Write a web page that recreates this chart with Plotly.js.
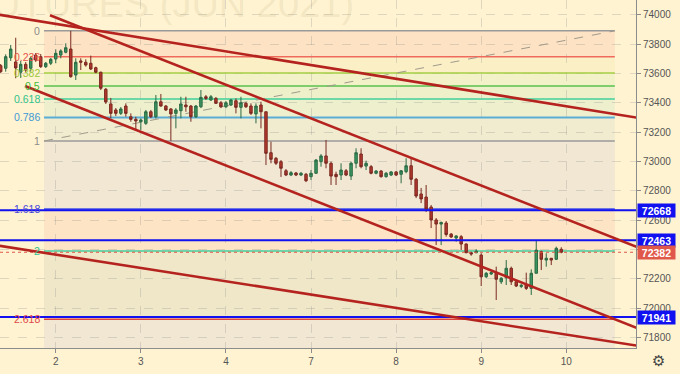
<!DOCTYPE html>
<html><head><meta charset="utf-8">
<script src="https://cdn.plot.ly/plotly-3.0.1.min.js"></script>
<style>html,body{margin:0;padding:0;background:#fff3d1;}#chart{width:680px;height:374px;}</style>
</head><body><div id="chart"></div>
<script>
// ---- data ----
const dayLabels = ['2','3','4','7','8','9','10'];
const dayFirstBar = [11,28,45,62,79,96,113];
const priceTicks = [71800,72000,72200,72400,72600,72800,73000,73200,73400,73600,73800,74000];
const priceTickText = ['71800','72000','72200','','72600','72800','73000','73200','73400','73600','73800','74000'];

const openP = [
73653,73635,73707,73678,73608,73662,73635,73725,73714,73646,
73669,73698,73725,73744,73766,73589,73685,73676,73669,73639,
73608,73492,73392,73351,73328,73378,73305,73287,73271,73260,
73339,73305,73407,73378,73358,73328,73346,73385,73378,73305,
73373,73441,73419,73430,73400,73373,73385,73414,73369,73396,
73378,73324,73385,73339,73060,73022,72999,72937,72908,72922,
72908,72913,72897,72920,72999,73038,72988,72913,72908,72937,
72901,72988,73051,72969,72965,72920,72935,72897,72908,72929,
72913,72931,72971,72879,72779,72758,72690,72602,72574,72581,
72506,72479,72488,72438,72379,72379,72363,72215,72234,72239,
72181,72209,72273,72181,72149,72159,72136,72239,72386,72329,
72341,72334,72402];
const highP = [
73664,73730,73794,73843,73685,73678,73714,73739,73732,73678,
73705,73764,73764,73805,73890,73703,73703,73696,73721,73646,
73612,73501,73433,73364,73371,73396,73328,73305,73294,73351,
73351,73453,73460,73385,73364,73364,73441,73441,73385,73385,
73487,73453,73453,73439,73412,73412,73426,73430,73441,73405,
73396,73396,73407,73339,73135,73031,73010,72949,72935,72929,
72929,72922,72942,73017,73051,73147,72999,72931,72988,72949,
72999,73090,73090,73006,72976,72942,72942,72929,72935,72935,
72942,73022,73022,72888,72820,72840,72704,72615,72591,72595,
72513,72499,72499,72443,72386,72402,72375,72247,72254,72284,
72213,72329,72284,72186,72166,72243,72266,72463,72393,72375,
72343,72420,72416];
const lowP = [
73603,73612,73685,73567,73569,73610,73612,73678,73637,73637,
73657,73669,73703,73737,73571,73555,73623,73646,73623,73601,
73487,73392,73294,73310,73317,73305,73271,73215,73215,73249,
73296,73294,73373,73344,73140,73226,73294,73339,73271,73296,
73364,73419,73412,73392,73364,73364,73378,73328,73294,73364,
73317,73260,73226,72976,72988,72976,72895,72901,72901,72901,
72901,72860,72874,72915,72965,72954,72840,72840,72874,72901,
72874,72954,72954,72942,72913,72913,72890,72890,72901,72901,
72852,72920,72840,72751,72717,72656,72547,72431,72431,72488,
72479,72454,72397,72375,72358,72375,72152,72207,72227,72057,
72166,72159,72159,72145,72138,72125,72091,72239,72261,72284,
72295,72329,72375];
const closeP = [
73612,73714,73766,73637,73662,73623,73703,73691,73646,73669,
73696,73737,73753,73775,73578,73676,73676,73657,73630,73608,
73499,73405,73328,73328,73358,73328,73287,73276,73283,73339,
73305,73407,73378,73351,73324,73351,73392,73373,73305,73378,
73437,73430,73441,73396,73373,73400,73419,73369,73400,73373,
73328,73378,73339,73056,73015,72988,72954,72908,72924,72908,
72920,72869,72920,73010,73038,72988,72901,72897,72942,72908,
72988,73060,72965,72988,72920,72935,72897,72920,72929,72908,
72937,72971,72879,72765,72745,72677,72602,72574,72585,72503,
72486,72493,72438,72379,72370,72390,72215,72239,72243,72198,
72205,72273,72181,72152,72157,72136,72239,72397,72334,72341,
72329,72409,72382];

// Fibonacci retracement
const fibHigh = 73890, fibLow = 73140;
const fibStartBar = 8.65, fibEndBar = 122.7;
const fibRatios = [0, 0.236, 0.382, 0.5, 0.618, 0.786, 1, 1.618, 2, 2.618];
const fibLabels = ['0','0.236','0.382','0.5','0.618','0.786','1','1.618','2','2.618'];
const fibLineColors = ['#9a9a9a','#ef6a5c','#a5cf45','#58c24c','#3fd19a','#5aaed6','#9a9a9a','#3f51e8','#43cf9f','#e0433c'];
const fibLabelColors = ['#8c8c8c','#e8534a','#9cc83a','#3dbb3a','#2fc38c','#3f9ad6','#8c8c8c','#4848d8','#2fc38c','#e04848'];
const fibZoneColors = ['#fde2c3','#fbefc6','#f3f1c8','#eef0c9','#eeefcd','#f1ebcf','#f1e7d2','#fce4c4','#f0e6c8','#f1e7d2'];

// trend lines [bar0, price0, bar1, price1]
const trendLines = [
  [-1, 74003, 128, 73294],
  [9.85, 73996, 128, 72406],
  [4.85, 73514, 128, 71854],
  [-1, 72430, 128, 71741]
];
const blueLevels = [72668, 72463, 71941];
const lastPrice = 72382;

// ---- build ----
const bars = openP.map((_, i) => i);
const watermark = {
  type:'scatter', mode:'text', x:[70.6], y:[74048], text:['FUTURES (JUN 2021)'],
  textposition:'middle left', cliponaxis:true, hoverinfo:'skip',
  textfont:{family:'Liberation Sans, Arial, sans-serif', size:38, color:'rgba(170,150,100,0.14)'}
};
const candles = {
  type:'candlestick', x:bars, open:openP, high:highP, low:lowP, close:closeP,
  increasing:{line:{color:'#2b6a45', width:1}, fillcolor:'#3a9560'},
  decreasing:{line:{color:'#7a2a22', width:1}, fillcolor:'#b3372d'},
  whiskerwidth:0, hoverinfo:'skip'
};

const shapes = [];
const annotations = [];
const fibPrice = r => fibHigh - r * (fibHigh - fibLow);

for (let i = 0; i < fibRatios.length; i++) {
  const top = fibPrice(fibRatios[i]);
  const bot = i + 1 < fibRatios.length ? fibPrice(fibRatios[i + 1]) : 71000;
  shapes.push({type:'rect', xref:'x', yref:'y', x0:fibStartBar, x1:fibEndBar, y0:bot, y1:top,
    fillcolor:fibZoneColors[i], line:{width:0}, layer:'below'});
}
for (let i = 0; i < fibRatios.length; i++) {
  const p = fibPrice(fibRatios[i]);
  shapes.push({type:'line', xref:'x', yref:'y', x0:fibStartBar, x1:fibEndBar, y0:p, y1:p,
    line:{color:fibLineColors[i], width:(i===5?2:1.5)}, layer:'between'});
  annotations.push({xref:'x', yref:'y', x:fibStartBar - 0.35, y:p, text:fibLabels[i], showarrow:false,
    xanchor:'right', yanchor:'middle', font:{family:'Liberation Sans, Arial, sans-serif', size:10.5, color:fibLabelColors[i]}});
}
// fib trend (dashed diagonal)
shapes.push({type:'line', xref:'x', yref:'y', x0:fibStartBar, y0:fibLow, x1:fibEndBar, y1:fibHigh,
  line:{color:'#a09a8c', width:1, dash:'dash'}, layer:'between'});

// last price dotted line
shapes.push({type:'line', xref:'paper', yref:'y', x0:0, x1:1, y0:lastPrice, y1:lastPrice,
  line:{color:'#e0584a', width:1, dash:'dot'}, layer:'above'});
// blue horizontal levels
blueLevels.forEach(v => shapes.push({type:'line', xref:'paper', yref:'y', x0:0, x1:1, y0:v, y1:v,
  line:{color:'#1010f0', width:2}, layer:'above'}));
// trend lines
trendLines.forEach(t => shapes.push({type:'line', xref:'x', yref:'y', x0:t[0], y0:t[1], x1:t[2], y1:t[3],
  line:{color:'#b5231f', width:2.6}, layer:'above'}));

// price tags on axis
const tagX = 656/636;
const tagFont = {family:'Liberation Sans, Arial, sans-serif', size:10.5, color:'#ffffff'};
blueLevels.forEach(v => annotations.push({xref:'paper', yref:'y', x:tagX, y:v, text:'<b>'+v+'</b>', showarrow:false,
  xanchor:'center', yanchor:'middle', bgcolor:'#1010f0', borderpad:1, width:35, height:11, font:tagFont}));
annotations.push({xref:'paper', yref:'y', x:tagX, y:lastPrice, text:'<b>'+lastPrice+'</b>', showarrow:false,
  xanchor:'center', yanchor:'middle', bgcolor:'#e0584a', borderpad:1, width:35, height:11, font:tagFont});
// settings icon
annotations.push({xref:'paper', yref:'paper', x:658/636, y:-13/348, text:'\u2699', showarrow:false,
  xanchor:'center', yanchor:'middle', font:{family:'DejaVu Sans', size:15, color:'#444'}});

const axisFont = {family:'Liberation Sans, Arial, sans-serif', size:10, color:'#555'};
const layout = {
  width:680, height:374,
  margin:{l:0, r:44, t:0, b:26, pad:0},
  paper_bgcolor:'#fff3d1', plot_bgcolor:'#fff3d1',
  showlegend:false,
  xaxis:{range:[-0.14,126.93], tickvals:dayFirstBar, ticktext:dayLabels, showgrid:true,
    gridcolor:'rgba(140,140,140,0.28)', griddash:'dash', zeroline:false, showline:true,
    linecolor:'#8c8c8c', ticks:'outside', ticklen:4, tickcolor:'#8c8c8c', tickfont:axisFont,
    rangeslider:{visible:false}, fixedrange:true},
  yaxis:{side:'right', range:[71730,74100], tickvals:priceTicks, ticktext:priceTickText, showgrid:true,
    gridcolor:'rgba(140,140,140,0.28)', griddash:'dash', zeroline:false, showline:true,
    linecolor:'#8c8c8c', ticks:'outside', ticklen:4, tickcolor:'#8c8c8c', tickfont:axisFont, fixedrange:true},
  shapes:shapes, annotations:annotations
};
Plotly.newPlot('chart', [watermark, candles], layout, {displayModeBar:false, staticPlot:true});
</script></body></html>
